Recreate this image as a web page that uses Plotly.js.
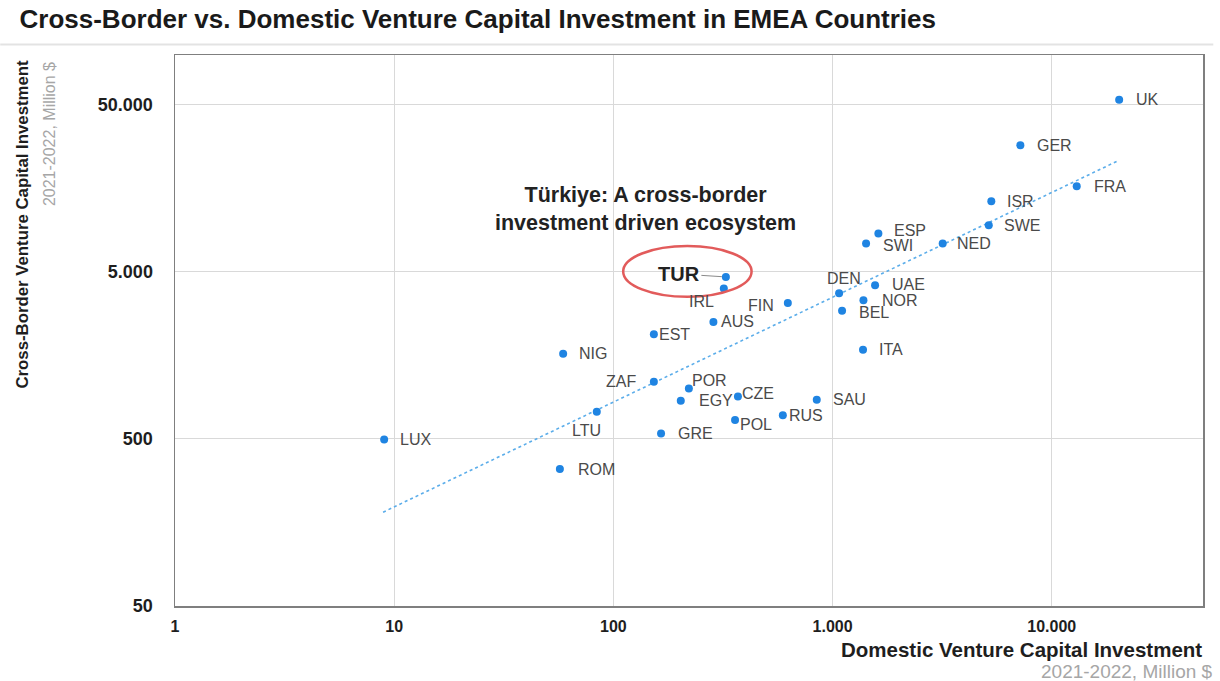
<!DOCTYPE html>
<html><head><meta charset="utf-8">
<script src="https://cdn.plot.ly/plotly-3.0.1.min.js"></script>
<style>html,body{margin:0;padding:0;background:#fff}#chart{width:1220px;height:681px}</style>
</head><body><div id="chart"></div><script>
// ---- data ----
const countries   = ['UK','GER','FRA','ISR','SWE','NED','ESP','SWI','DEN','UAE','NOR','BEL','ITA','FIN','TUR','IRL','AUS','EST','NIG','ZAF','POR','EGY','CZE','SAU','RUS','POL','LTU','GRE','LUX','ROM'];
const domestic    = [20300,7190,13000,5300,5160,3180,1618,1422,1071,1563,1383,1105,1377,625,326,319,286,153,59,153,221,203,370,847,593,359,84,165,9.0,57];
const crossBorder = [53300,28500,16200,13200,9460,7380,8450,7380,3710,4140,3370,2920,1707,3250,4650,3970,2500,2110,1615,1097,1000,845,896,857,693,647,726,538,495,330];
const trendDomestic    = [8.9, 20300];
const trendCrossBorder = [182, 23200];
const xTickVals = [1, 10, 100, 1000, 10000];
const xTickText = ['1', '10', '100', '1.000', '10.000'];
const yTickVals = [50, 500, 5000, 50000];
const yTickText = ['50', '500', '5.000', '50.000'];
const highlight = 'TUR';
const chartTitle = 'Cross-Border vs. Domestic Venture Capital Investment in EMEA Countries';
const xTitle = 'Domestic Venture Capital Investment';
const yTitle = 'Cross-Border Venture Capital Investment';
const unitText = '2021-2022, Million $';
const calloutText = 'Türkiye: A cross-border<br>investment driven ecosystem';

// ---- label placement (style, not data) ----
const labelAnchor = {UK:'left',GER:'left',FRA:'left',ISR:'left',SWE:'left',NED:'left',ESP:'left',SWI:'left',DEN:'center',UAE:'left',NOR:'left',BEL:'left',ITA:'left',FIN:'right',IRL:'center',AUS:'left',EST:'left',NIG:'left',ZAF:'right',POR:'left',EGY:'left',CZE:'left',SAU:'left',RUS:'left',POL:'left',LTU:'center',GRE:'left',LUX:'left',ROM:'left'};
const labelDx = {UK:15,GER:15,FRA:15,ISR:14,SWE:13,NED:12,ESP:14,SWI:15,DEN:5,UAE:15,NOR:17,BEL:15,ITA:14,FIN:-12,IRL:-22,AUS:6,EST:3,NIG:14,ZAF:-16,POR:1,EGY:16,CZE:2,SAU:14,RUS:4,POL:3,LTU:-10,GRE:15,LUX:14,ROM:16};
const labelDy = {UK:0,GER:0,FRA:0,ISR:0,SWE:0,NED:0,ESP:3,SWI:-2,DEN:15,UAE:1,NOR:0,BEL:-2,ITA:0,FIN:-3,IRL:-13,AUS:0,EST:0,NIG:0,ZAF:0,POR:8,EGY:0,CZE:3,SAU:0,RUS:0,POL:-4,LTU:-19,GRE:0,LUX:0,ROM:0};
// ellipse extent around the highlighted point, as multiplicative factors on the log axes
const ringLeft = 0.34, ringRight = 1.31, ringBottom = 0.76, ringTop = 1.53;

const FONT = 'Liberation Sans, Arial, sans-serif';
const blue = '#1f84e2';

const traces = [
  {
    x: trendDomestic, y: trendCrossBorder, type: 'scatter', mode: 'lines',
    line: {color: '#5badea', width: 1.6, dash: 'dot'}, hoverinfo: 'skip'
  },
  {
    x: domestic, y: crossBorder, text: countries, type: 'scatter', mode: 'markers',
    marker: {color: blue, size: 8}, hovertemplate: '%{text}<br>%{x}, %{y}<extra></extra>'
  }
];

const annotations = [];
countries.forEach((c, i) => {
  if (c === highlight) {
    annotations.push({
      x: Math.log10(domestic[i]), y: Math.log10(crossBorder[i]), xref: 'x', yref: 'y',
      text: '<b>' + c + '</b>', showarrow: true, arrowhead: 0, arrowwidth: 1, arrowcolor: '#8a8a8a',
      ax: -47, ay: -3, standoff: 4,
      font: {family: FONT, size: 20, color: '#222'}
    });
    return;
  }
  annotations.push({
    x: Math.log10(domestic[i]), y: Math.log10(crossBorder[i]), xref: 'x', yref: 'y',
    text: c, showarrow: false, xanchor: labelAnchor[c], yanchor: 'middle',
    xshift: labelDx[c], yshift: labelDy[c],
    font: {family: FONT, size: 16, color: '#4a4a4a'}
  });
});
// callout
annotations.push({
  xref: 'paper', yref: 'paper', x: 0.458, y: 0.721, xanchor: 'center', yanchor: 'middle',
  text: '<b>' + calloutText + '</b>', showarrow: false, align: 'center',
  font: {family: FONT, size: 21.5, color: '#222'}
});
// axis titles
annotations.push({
  xref: 'paper', yref: 'paper', x: 1.0, y: -0.079, xanchor: 'right', yanchor: 'middle',
  text: '<b>' + xTitle + '</b>', showarrow: false, borderpad: 0,
  font: {family: FONT, size: 20.5, color: '#1e1e1e'}
});
annotations.push({
  xref: 'paper', yref: 'paper', x: 1.011, y: -0.118, xanchor: 'right', yanchor: 'middle',
  text: unitText, showarrow: false, borderpad: 0,
  font: {family: FONT, size: 19, color: '#a6a6a6'}
});
annotations.push({
  xref: 'paper', yref: 'paper', x: -0.148, y: 0.996, xanchor: 'center', yanchor: 'top',
  text: '<b>' + yTitle + '</b>', textangle: -90, showarrow: false, font: {family: FONT, size: 16.8, color: '#1e1e1e'}
});
annotations.push({
  xref: 'paper', yref: 'paper', x: -0.122, y: 0.99, xanchor: 'center', yanchor: 'top',
  text: unitText, textangle: -90, showarrow: false, font: {family: FONT, size: 16, color: '#a6a6a6'}
});

const tIdx = countries.indexOf(highlight);
const shapes = [
  {
    type: 'circle', xref: 'x', yref: 'y',
    x0: domestic[tIdx] * ringLeft, x1: domestic[tIdx] * ringRight,
    y0: crossBorder[tIdx] * ringBottom, y1: crossBorder[tIdx] * ringTop,
    line: {color: '#e25b5b', width: 2.5}
  },
  {
    type: 'line', xref: 'paper', yref: 'paper', x0: -0.17, x1: 1.01, y0: 1.019, y1: 1.019,
    line: {color: '#e3e3e3', width: 2}
  }
];

const layout = {
  width: 1220, height: 681,
  margin: {l: 175, r: 17, t: 55, b: 75},
  paper_bgcolor: '#fff', plot_bgcolor: '#fff',
  showlegend: false,
  font: {family: FONT},
  title: {
    text: '<b>' + chartTitle + '</b>', x: 0.016, xanchor: 'left', xref: 'container',
    y: 0.972, yanchor: 'middle', yref: 'container',
    font: {family: FONT, size: 26, color: '#1a1a1a'}
  },
  xaxis: {
    type: 'log', range: [0, 4.69], tickvals: xTickVals, ticktext: xTickText,
    showgrid: true, gridcolor: '#d9d9d9', gridwidth: 1, zeroline: false,
    showline: true, mirror: true, linecolor: '#7f7f7f', linewidth: 1.5,
    ticks: '', ticklabelstandoff: 5,
    tickfont: {family: FONT, size: 16, color: '#1e1e1e', weight: 'bold'}
  },
  yaxis: {
    type: 'log', range: [Math.log10(50), 4.995], tickvals: yTickVals, ticktext: yTickText,
    showgrid: true, gridcolor: '#d9d9d9', gridwidth: 1, zeroline: false,
    showline: true, mirror: true, linecolor: '#7f7f7f', linewidth: 1.5,
    ticks: '', ticklabelstandoff: 17,
    tickfont: {family: FONT, size: 18, color: '#1e1e1e', weight: 'bold'}
  },
  annotations: annotations,
  shapes: shapes
};

Plotly.newPlot('chart', traces, layout, {displayModeBar: false, staticPlot: true});
</script></body></html>
